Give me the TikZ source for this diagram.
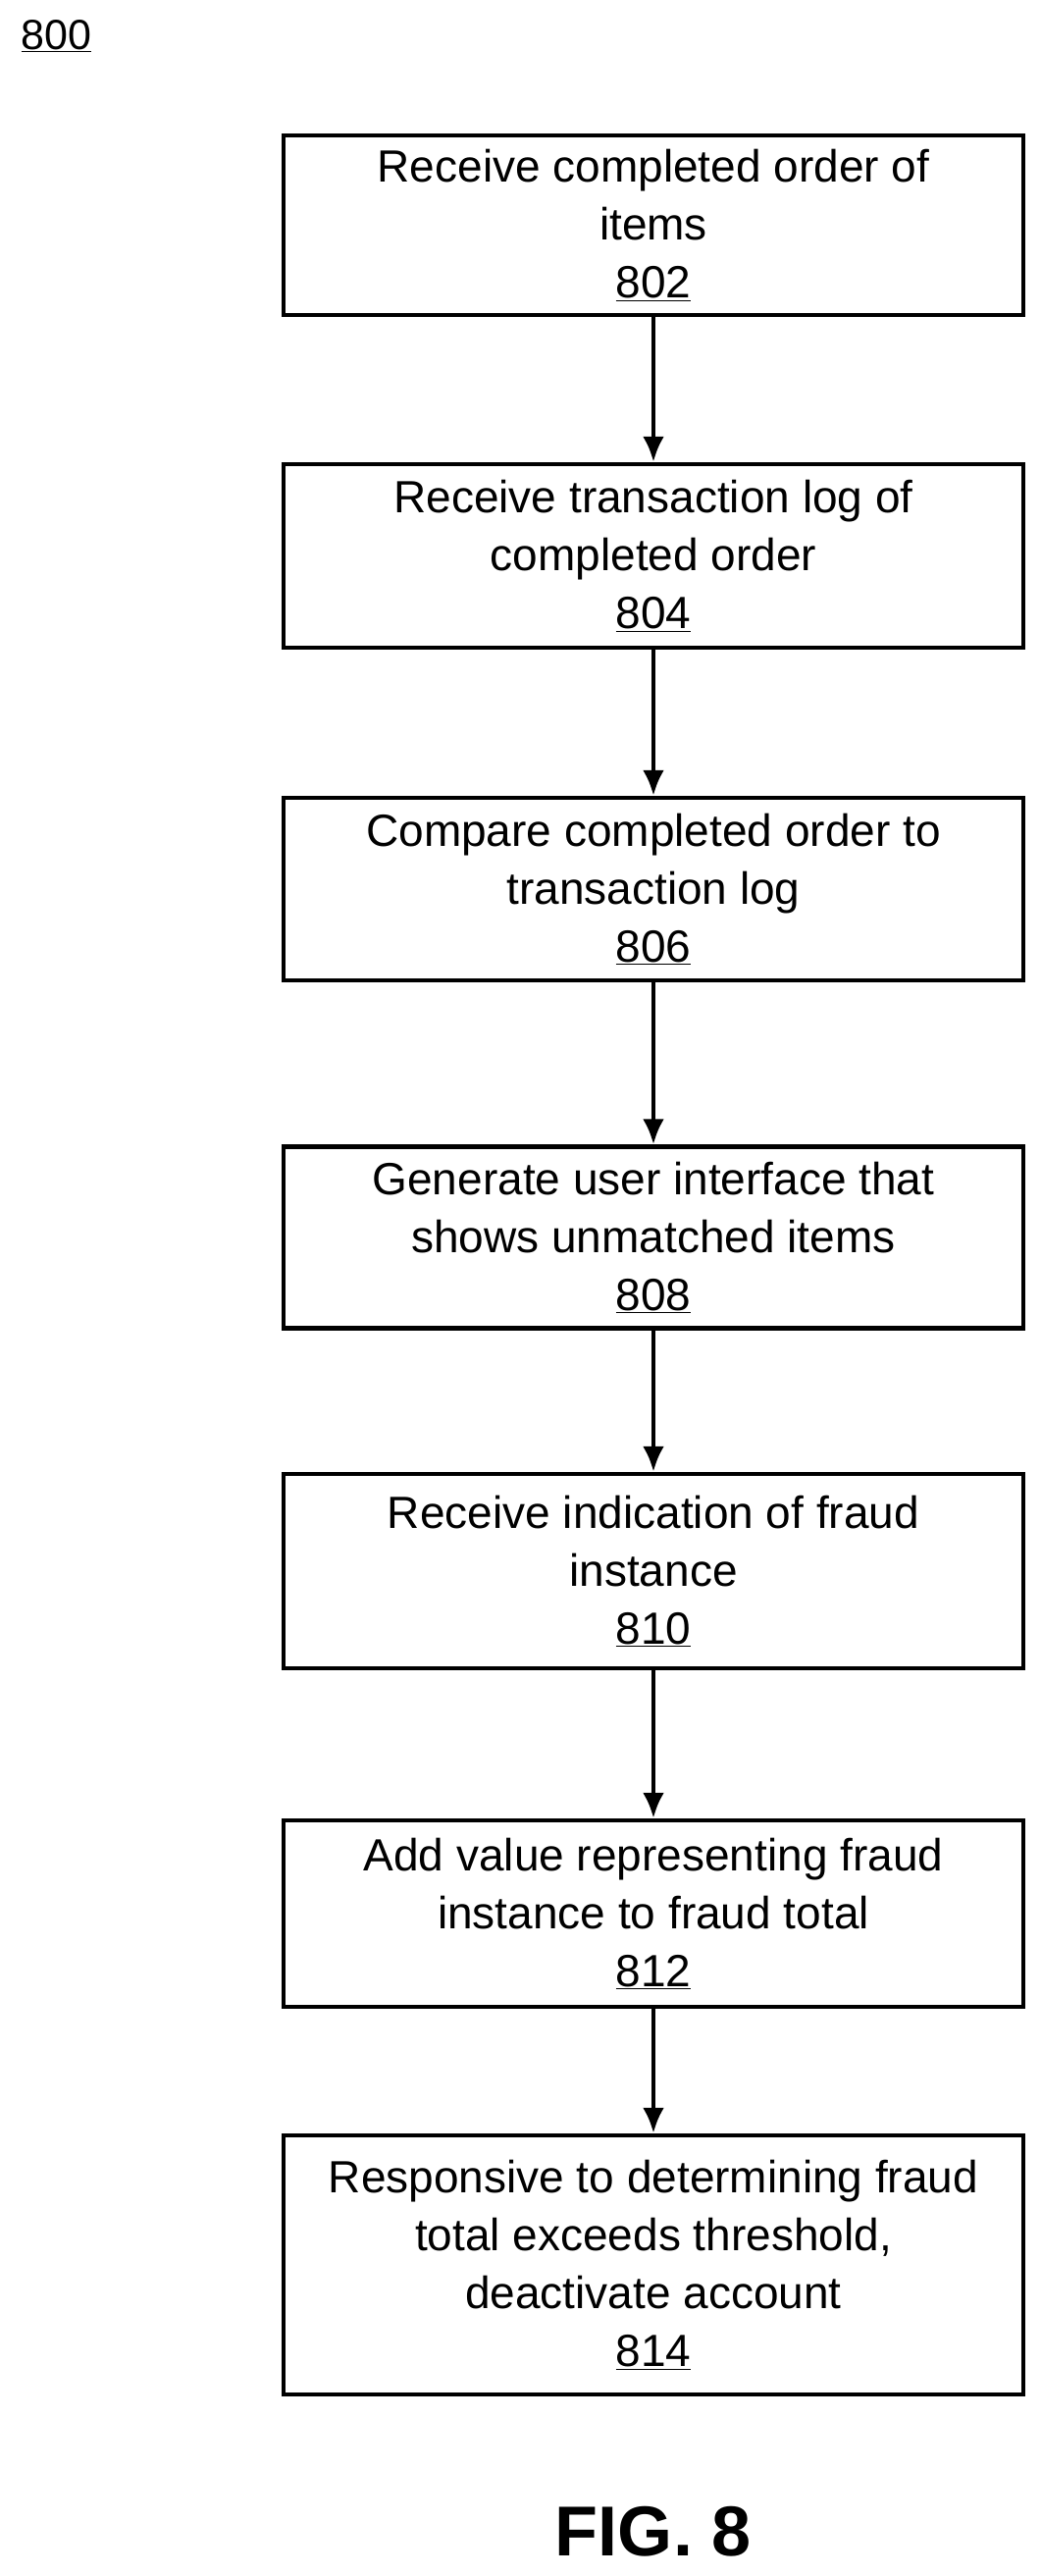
\documentclass[tikz,border=0pt]{standalone}
\usepackage{fontspec}
\usetikzlibrary{arrows.meta}
\setmainfont{Liberation Sans}
\begin{document}
\begin{tikzpicture}[x=1pt,y=-1pt,
 box/.style={draw,line width=4.5pt,minimum width=754pt,align=center,inner sep=0pt,font=\fontsize{46}{59}\selectfont},
 arr/.style={-{Latex[length=26pt,width=22pt]},line width=4.5pt}]
\useasboundingbox (0,0) rectangle (1060,2625);
\node[anchor=west,font=\fontsize{43}{50}\selectfont] (t) at (18,37) {\underline{800}};
\node[box,minimum height=183pt] (b1) at (666,229.5) {Receive completed order of\\items\\\underline{802}};
\node[box,minimum height=187pt] (b2) at (666,566.5) {Receive transaction log of\\completed order\\\underline{804}};
\node[box,minimum height=186pt] (b3) at (666,906) {Compare completed order to\\transaction log\\\underline{806}};
\node[box,minimum height=185pt] (b4) at (666,1261) {Generate user interface that\\shows unmatched items\\\underline{808}};
\node[box,minimum height=198pt] (b5) at (666,1601) {Receive indication of fraud\\instance\\\underline{810}};
\node[box,minimum height=190pt] (b6) at (666,1950) {Add value representing fraud\\instance to fraud total\\\underline{812}};
\node[box,minimum height=264pt] (b7) at (666,2308) {Responsive to determining fraud\\total exceeds threshold,\\deactivate account\\\underline{814}};
\foreach \a/\b in {b1/b2,b2/b3,b3/b4,b4/b5,b5/b6,b6/b7} \draw[arr] (\a) -- (\b);
\node[font=\bfseries\fontsize{72}{80}\selectfont] (f) at (666,2580) {FIG. 8};
\end{tikzpicture}
\end{document}
